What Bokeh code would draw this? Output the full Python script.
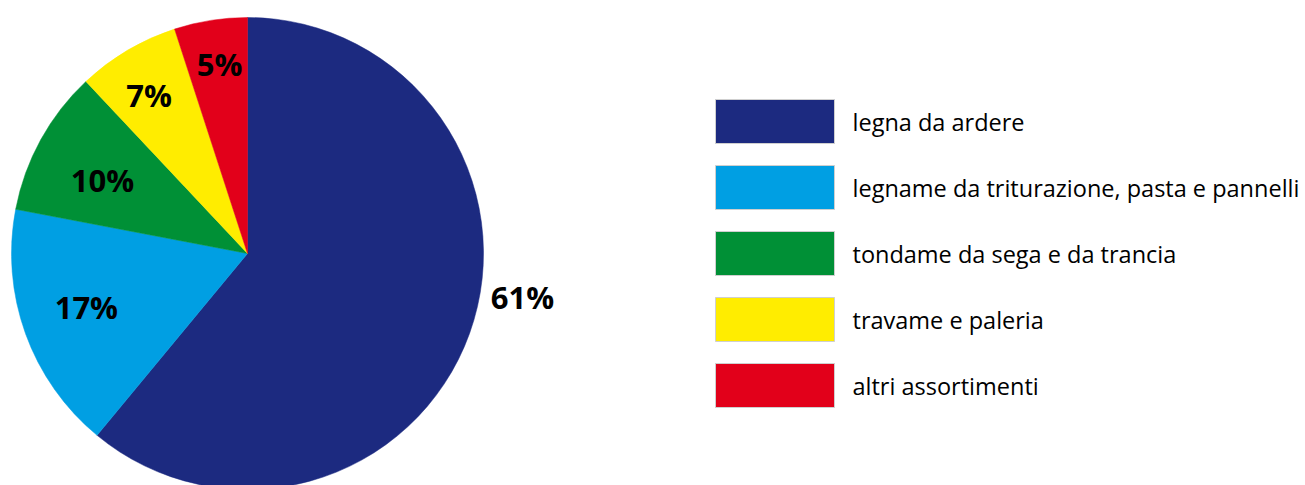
import math
from bokeh.plotting import figure
from bokeh.models import Range1d, ColumnDataSource
from bokeh.core.properties import value
from bokeh.embed import file_html
from bokeh.resources import INLINE

categories = [
    "legna da ardere",
    "legname da triturazione, pasta e pannelli",
    "tondame da sega e da trancia",
    "travame e paleria",
    "altri assortimenti",
]
values = [61, 17, 10, 7, 5]
pct_labels = ["61%", "17%", "10%", "7%", "5%"]
colors = ["#1c2a80", "#009fe3", "#009036", "#ffed00", "#e2001a"]

# layout (figure pixel units)
W, H = 1305, 485
CX, CY, R = 247, 232, 236
label_rf = [1.18, 0.72, 0.69, 0.79, 0.81]   # radial factor of label
label_da = [10.8, -1.3, 1.8, 1.3, -0.6]     # angular nudge (deg)

total = float(sum(values))
starts, ends, lx, ly = [], [], [], []
cum = 0.0
for i, v in enumerate(values):
    a0 = math.pi / 2 - 2 * math.pi * cum / total
    cum += v
    a1 = math.pi / 2 - 2 * math.pi * cum / total
    starts.append(a1)
    ends.append(a0)
    mid = (a0 + a1) / 2 + math.radians(label_da[i])
    lx.append(CX + R * label_rf[i] * math.cos(mid))
    ly.append(CY + R * label_rf[i] * math.sin(mid))

p = figure(width=W, height=H, output_backend="svg", toolbar_location=None,
           x_range=Range1d(0, W), y_range=Range1d(0, H), min_border=0)
p.axis.visible = False
p.grid.visible = False
p.outline_line_color = None
p.background_fill_color = "white"
p.border_fill_color = "white"

src = ColumnDataSource(dict(start=starts, end=ends, color=colors, cat=categories))
p.wedge(x=CX, y=CY, radius=R, start_angle="start", end_angle="end",
        fill_color="color", line_color="color", line_width=0.5, source=src)

p.text(x=lx, y=ly, text=pct_labels, text_font=value("Open Sans"),
       text_font_style="bold", text_font_size="31px", text_color="black",
       text_align="center", text_baseline="middle")

# legend
box_left, box_w, box_h = 715, 119, 44
first_top, step = 386, 66
tops = [first_top - step * i for i in range(len(categories))]
p.quad(left=box_left, right=box_left + box_w, top=tops,
       bottom=[t - box_h for t in tops], fill_color=colors,
       line_color="#cfcfcf", line_width=1)
p.text(x=[box_left + 137] * len(categories), y=[t - box_h / 2 for t in tops],
       text=categories, text_font=value("Open Sans"), text_font_size="23.5px",
       text_color="black", text_align="left", text_baseline="middle")

open("out.html", "w").write(file_html(p, INLINE))
